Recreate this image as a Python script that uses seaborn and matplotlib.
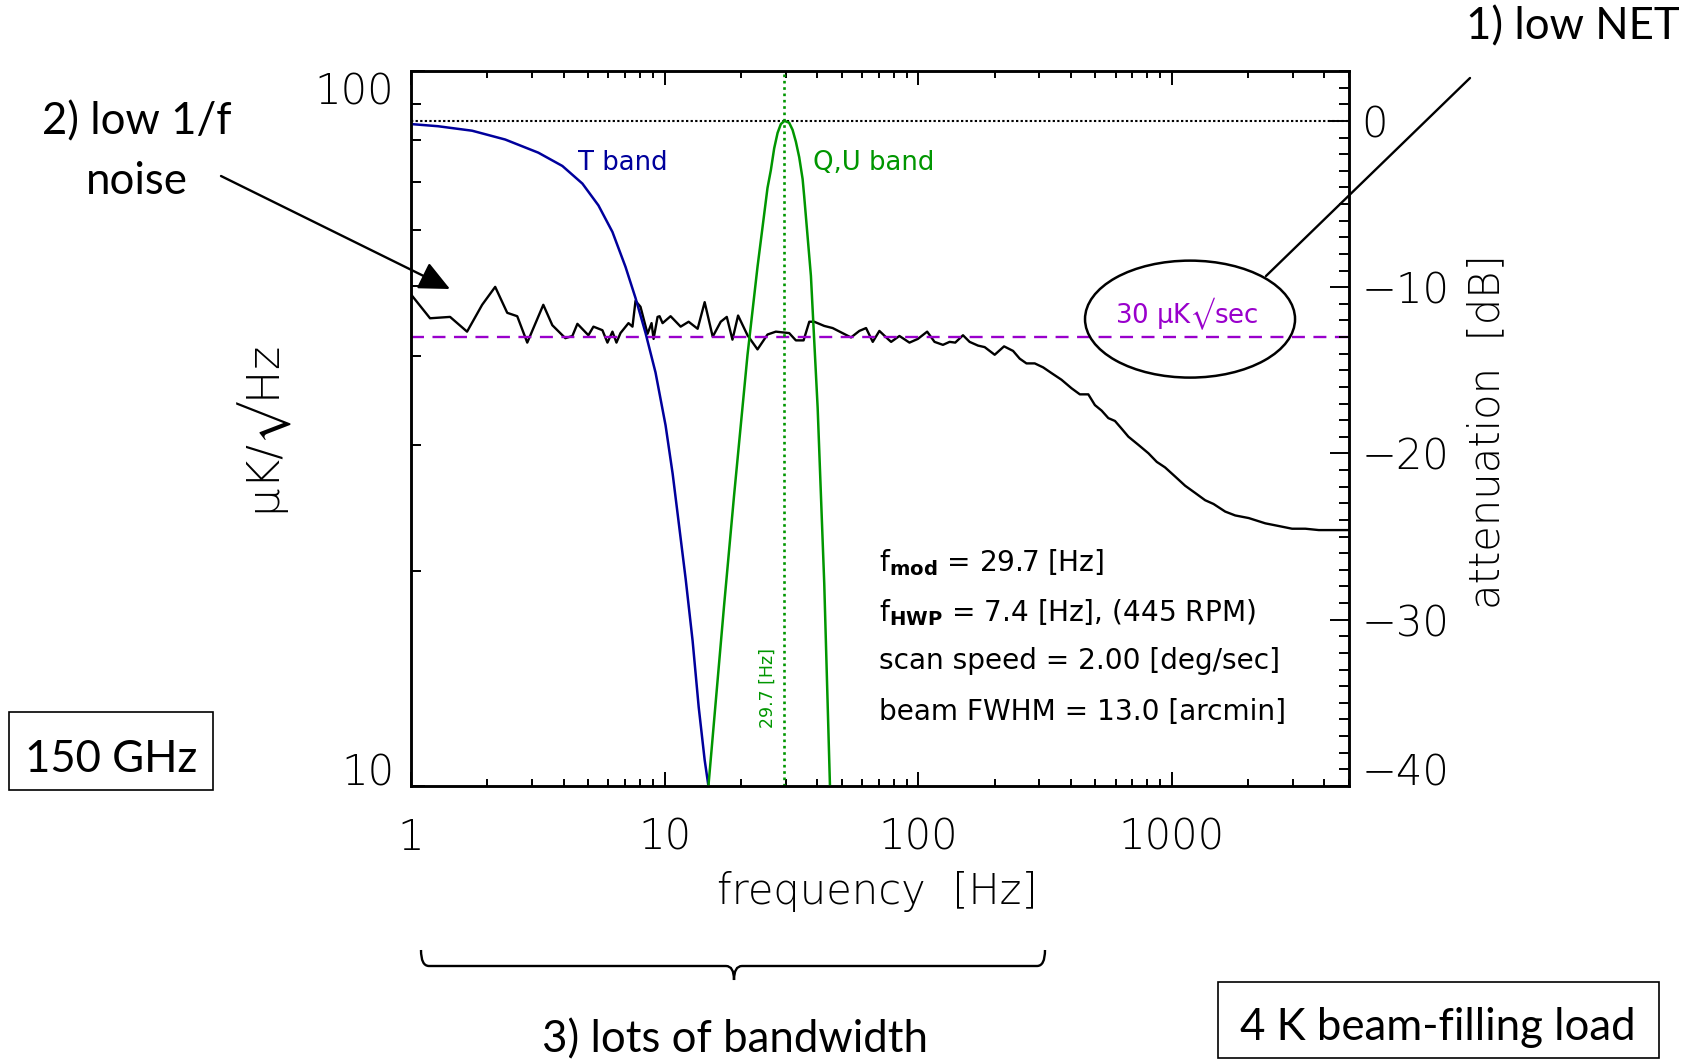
import matplotlib
matplotlib.use("Agg")
import matplotlib.pyplot as plt
import seaborn as sns
from matplotlib.patches import Ellipse, Rectangle, FancyArrowPatch, PathPatch
from matplotlib.path import Path
from matplotlib.lines import Line2D
from matplotlib.ticker import FixedLocator, FixedFormatter, NullFormatter

# ---------------- data ----------------
noise_freq = [1.00, 1.189, 1.426, 1.664, 1.908, 2.148, 2.396, 2.624, 2.874, 3.325,
              3.609, 4.062, 4.329, 4.531, 5.007, 5.242, 5.687, 5.952, 6.229, 6.460,
              6.700, 7.205, 7.472, 7.680, 8.036, 8.567, 8.884, 9.048, 9.383, 9.555,
              9.82, 10.56, 11.57, 12.44, 13.50, 14.39, 15.48, 16.65, 17.59, 18.52,
              19.49, 21.23, 23.25, 25.46, 27.46, 30.99, 32.94, 35.33, 37.20, 38.91,
              42.63, 46.01, 54.35, 58.61, 62.30, 66.21, 70.31, 75.89, 78.22, 84.36,
              92.39, 99.7, 108.5, 116.0, 125.2, 133.0, 140.0, 150.2, 159.5, 172.2,
              182.9, 200.3, 218.1, 236.7, 251.4, 267.3, 288.2, 311.1, 335.6, 367.4,
              402.4, 434.0, 468.7, 497.6, 528.9, 562.1, 597.0, 634.5, 674.4, 738.6,
              808.9, 872.5, 940.8, 1030, 1129, 1236, 1354, 1461, 1624, 1779,
              2011, 2338, 2641, 2981, 3365, 3800, 4290, 4994]
noise_amp = [48.7, 45.1, 45.3, 43.2, 47.1, 49.9, 45.9, 45.4, 41.7, 47.1,
             44.1, 42.3, 42.6, 44.3, 42.7, 43.9, 43.4, 41.7, 43.2, 41.7,
             43.0, 44.4, 43.9, 47.7, 46.8, 42.9, 44.4, 42.2, 45.3, 45.4,
             44.4, 45.4, 43.9, 44.6, 43.6, 47.5, 42.5, 44.6, 45.3, 42.1,
             45.5, 42.7, 40.8, 42.8, 43.2, 43.0, 42.0, 42.0, 44.6, 44.6,
             44.0, 43.7, 42.4, 43.3, 43.7, 41.8, 43.3, 42.2, 41.8, 42.6,
             41.7, 42.2, 43.2, 41.8, 41.4, 41.8, 41.7, 42.7, 41.8, 41.3,
             41.1, 40.1, 41.2, 40.6, 39.6, 39.0, 39.0, 38.5, 37.8, 37.0,
             36.0, 35.3, 35.3, 34.1, 33.5, 32.7, 32.4, 31.6, 30.8, 30.0,
             29.2, 28.4, 27.9, 27.1, 26.3, 25.7, 25.1, 24.8, 24.2, 23.9,
             23.7, 23.3, 23.1, 22.9, 22.9, 22.8, 22.8, 22.8]

t_band_freq = [1.0, 1.278, 1.742, 2.352, 3.177, 3.953, 4.742, 5.484, 6.229, 7.014,
               7.68, 8.41, 9.21, 10.09, 10.76, 11.36, 12.11, 12.90, 13.63, 14.39, 14.89]
t_band_db = [-0.19, -0.32, -0.59, -1.12, -1.91, -2.71, -3.77, -5.08, -6.68, -8.78,
             -10.65, -12.75, -15.13, -18.31, -21.22, -24.12, -27.55, -31.28, -35.25, -38.44, -40.0]

qu_band_freq = [14.89, 17.16, 18.79, 21.23, 23.25, 25.46, 26.24, 27.05, 27.90, 28.74,
                29.7, 30.99, 31.97, 32.94, 33.95, 35.02, 35.53, 37.76, 40.14, 42.62, 44.89]
qu_band_db = [-40.0, -29.16, -22.54, -14.08, -8.78, -4.03, -2.97, -1.65, -0.72, -0.19,
              0.0, -0.11, -0.54, -1.25, -2.18, -3.5, -4.55, -9.32, -17.25, -27.83, -40.0]

f_mod = 29.7          # Hz
net_level = 42.4      # uK/sqrt(Hz)  (30 uK sqrt(s))

x_ticks = [1, 10, 100, 1000]
x_tick_labels = ["1", "10", "100", "1000"]
x_minor = [2, 3, 4, 5, 6, 7, 8, 9, 20, 30, 40, 50, 60, 70, 80, 90,
           200, 300, 400, 500, 600, 700, 800, 900, 2000, 3000, 4000, 5000]
y_ticks = [10, 100]
y_tick_labels = ["10", "100"]
y_minor = [20, 30, 40, 50, 60, 70, 80, 90]
db_ticks = [-40, -30, -20, -10, 0]
db_tick_labels = ["\u221240", "\u221230", "\u221220", "\u221210", "0"]
db_minor = list(range(-40, 4))

info_lines = [r"f$_{\mathbf{mod}}$ = 29.7 [Hz]",
              r"f$_{\mathbf{HWP}}$ = 7.4 [Hz], (445 RPM)",
              "scan speed = 2.00 [deg/sec]",
              "beam FWHM = 13.0 [arcmin]"]

BLUE = "#00009c"
GREEN = "#009600"
PURPLE = "#9900cc"

# ---------------- style ----------------
sns.set_theme(style="white")
plt.rcParams["font.family"] = ["DejaVu Sans"]
plt.rcParams["font.weight"] = "light"
plt.rcParams["mathtext.fontset"] = "dejavusans"
plt.rcParams["axes.unicode_minus"] = True

fig = plt.figure(figsize=(16.92, 10.60), dpi=100)
fig.patch.set_facecolor("white")
ax = fig.add_axes([0.2429, 0.2585, 0.5544, 0.6745])
ax2 = ax.twinx()

ax.set_xscale("log")
ax.set_yscale("log")
ax.set_xlim(1, 5000)
ax.set_ylim(10, 100)
ax2.set_ylim(-40, 3)

# ---------------- data lines ----------------
sns.lineplot(x=noise_freq, y=noise_amp, ax=ax, color="black", lw=1.7,
             estimator=None, sort=False)
ax.axhline(net_level, color=PURPLE, lw=1.7, ls=(0, (5.5, 3.6)))
ax.axvline(f_mod, color=GREEN, lw=1.9, ls=(0, (1.0, 1.4)))
ax2.axhline(0, color="black", lw=1.5, ls=(0, (1.1, 1.1)))
sns.lineplot(x=t_band_freq, y=t_band_db, ax=ax2, color=BLUE, lw=1.8,
             estimator=None, sort=False)
sns.lineplot(x=qu_band_freq, y=qu_band_db, ax=ax2, color=GREEN, lw=1.8,
             estimator=None, sort=False)

# ---------------- axes / ticks ----------------
for a in (ax, ax2):
    for s in a.spines.values():
        s.set_visible(True)
        s.set_color("black")
        s.set_linewidth(1.8)
ax.grid(False)
ax2.grid(False)

ax.xaxis.set_major_locator(FixedLocator(x_ticks))
ax.xaxis.set_major_formatter(FixedFormatter(x_tick_labels))
ax.xaxis.set_minor_locator(FixedLocator(x_minor))
ax.xaxis.set_minor_formatter(NullFormatter())
ax.yaxis.set_major_locator(FixedLocator(y_ticks))
ax.yaxis.set_major_formatter(FixedFormatter(y_tick_labels))
ax.yaxis.set_minor_locator(FixedLocator(y_minor))
ax.yaxis.set_minor_formatter(NullFormatter())
ax2.yaxis.set_major_locator(FixedLocator(db_ticks))
ax2.yaxis.set_major_formatter(FixedFormatter(db_tick_labels))
ax2.yaxis.set_minor_locator(FixedLocator(db_minor))
ax2.yaxis.set_minor_formatter(NullFormatter())

ax.tick_params(axis="x", which="both", direction="in", bottom=True, top=True,
               colors="black", width=1.4, labelsize=30, pad=22)
ax.tick_params(axis="x", which="major", length=10)
ax.tick_params(axis="x", which="minor", length=5)
ax.tick_params(axis="y", which="both", direction="in", left=True, right=False,
               colors="black", width=1.4, labelsize=30, pad=12)
ax.tick_params(axis="y", which="major", length=10)
ax.tick_params(axis="y", which="minor", length=7)
ax2.tick_params(axis="y", which="both", direction="in", right=True, left=False,
                colors="black", width=1.4, labelsize=30, pad=9)
ax2.tick_params(axis="y", which="major", length=13.5)
ax2.tick_params(axis="y", which="minor", length=7)

for lbl in ax.get_xticklabels() + ax.get_yticklabels() + ax2.get_yticklabels():
    lbl.set_fontweight("light")
ylbls = ax.yaxis.get_majorticklabels()
ylbls[0].set_va("baseline")
ylbls[1].set_va("top")
ax2.yaxis.get_majorticklabels()[0].set_va("baseline")

ax.set_xlabel("frequency  [Hz]", fontsize=30, fontweight="light", color="black")
ax.xaxis.set_label_coords(0.4968, -0.148)
ax.xaxis.label.set_va("center")
ax.set_ylabel("\u03bcK/$\u221a$Hz", fontsize=32, fontweight="light", color="black")
ax.yaxis.set_label_coords(-0.1567, 0.495)
ax.yaxis.label.set_va("center")
ax.yaxis.label.set_ha("center")
ax2.set_ylabel("attenuation  [dB]", fontsize=30, fontweight="light", color="black")
ax2.yaxis.set_label_coords(1.147, 0.495)
ax2.yaxis.label.set_va("center")
ax2.yaxis.label.set_ha("center")

# ---------------- in-plot text ----------------
ax.text(0.178, 0.871, "T band", transform=ax.transAxes, color=BLUE, fontsize=18.7,
        fontweight="normal", va="center", ha="left")
ax.text(0.4286, 0.871, "Q,U band", transform=ax.transAxes, color=GREEN, fontsize=18.7,
        fontweight="normal", va="center", ha="left")
ax.text(0.7505, 0.660, "30 \u03bcK$\u221a$sec", transform=ax.transAxes, color=PURPLE,
        fontsize=18.7, fontweight="normal", va="center", ha="left")
ax.text(0.3806, 0.137, "29.7 [Hz]", transform=ax.transAxes, color=GREEN, fontsize=12.5,
        fontweight="normal", rotation=90, va="center", ha="center")
info_y = [0.313, 0.243, 0.175, 0.104]
for yy, txt in zip(info_y, info_lines):
    ax.text(0.499, yy, txt, transform=ax.transAxes, color="black", fontsize=20.2,
            fontweight="normal", va="center", ha="left")

ax.add_patch(Ellipse((0.8305, 0.653), 0.2239, 0.1636, transform=ax.transAxes,
                     fill=False, ec="black", lw=1.8, clip_on=False, zorder=5))

# ---------------- annotations outside ----------------
ANN = ["Lato", "DejaVu Sans"]
T = fig.dpi_scale_trans


def P(x, y):
    return (x / 100.0, (1060 - y) / 100.0)


def note(x, y, s):
    fig.text(x / 1692, 1 - y / 1060, s, family=ANN, fontsize=31.5,
             fontweight="normal", ha="center", va="center", color="black")


note(137, 122, "2) low 1/f")
note(137, 181, "noise")
note(1573, 27, "1) low NET")
note(735, 1040, "3) lots of bandwidth")
note(111, 760, "150 GHz")
note(1438, 1027, "4 K beam-filling load")

fig.add_artist(Rectangle(P(9, 790), 2.04, 0.78, transform=T, fill=False,
                         ec="black", lw=1.2))
fig.add_artist(Rectangle(P(1218, 1058), 4.41, 0.76, transform=T, fill=False,
                         ec="black", lw=1.2))

fig.add_artist(FancyArrowPatch(P(221, 176), P(450, 289), transform=T,
                               arrowstyle="-|>,head_length=0.9,head_width=0.42",
                               mutation_scale=21, lw=1.7, color="black",
                               shrinkA=0, shrinkB=0))
fig.add_artist(Line2D([P(1266, 276)[0], P(1470, 78)[0]],
                      [P(1266, 276)[1], P(1470, 78)[1]], transform=T,
                      color="black", lw=1.7))

verts = [P(421, 950), P(421, 966), P(429, 966),
         P(726, 966),
         P(734, 966), P(734, 980),
         P(734, 966), P(742, 966),
         P(1037, 966),
         P(1045, 966), P(1045, 950)]
codes = [Path.MOVETO, Path.CURVE3, Path.CURVE3,
         Path.LINETO,
         Path.CURVE3, Path.CURVE3,
         Path.CURVE3, Path.CURVE3,
         Path.LINETO,
         Path.CURVE3, Path.CURVE3]
fig.add_artist(PathPatch(Path(verts, codes), transform=T, fill=False,
                         ec="black", lw=1.7))

fig.savefig("out.png", dpi=100, facecolor="white")
